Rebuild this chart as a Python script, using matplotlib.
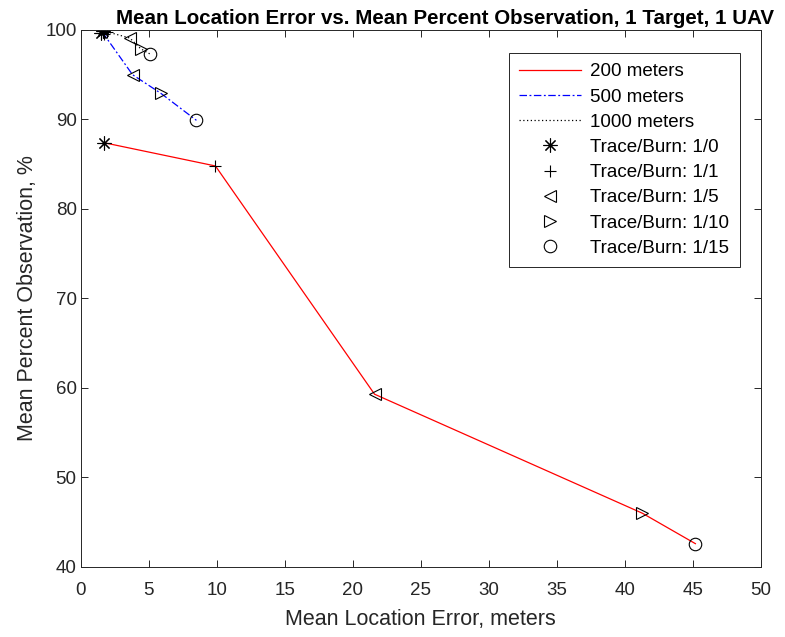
import matplotlib
matplotlib.use("Agg")
import matplotlib.pyplot as plt
from matplotlib.lines import Line2D

plt.rcParams['font.family'] = ['Liberation Sans', 'DejaVu Sans']

# ratios trace/burn, one point per ratio on each series
ratios = ['1/0', '1/1', '1/5', '1/10', '1/15']
markers = [(8, 2, 0), '+', '<', '>', 'o']

err_200 = [1.7, 9.9, 21.6, 41.3, 45.2]
obs_200 = [87.4, 84.8, 59.3, 46.0, 42.6]

err_500 = [1.5, 1.7, 3.8, 5.9, 8.5]
obs_500 = [99.7, 99.5, 95.0, 92.9, 89.9]

err_1000 = [1.6, 1.9, 3.6, 4.4, 5.1]
obs_1000 = [99.9, 99.8, 99.1, 97.9, 97.3]

series = [
    ('200 meters', err_200, obs_200, 'red', '-'),
    ('500 meters', err_500, obs_500, 'blue', (0, (6, 2, 1.5, 2))),
    ('1000 meters', err_1000, obs_1000, 'black', (0, (1, 2))),
]

def msize(m):
    return 10 if m == (8, 2, 0) else 9

fig = plt.figure(figsize=(7.85, 6.37), dpi=100)
ax = fig.add_axes([0.103, 0.110, 0.866, 0.843])

for name, xs, ys, col, ls in series:
    ax.plot(xs, ys, color=col, linestyle=ls, linewidth=0.9)
    for x, y, m in zip(xs, ys, markers):
        ax.plot(x, y, marker=m, color='black', markersize=msize(m),
                markerfacecolor='none', markeredgewidth=0.8, linestyle='none')

ax.set_xlim(0, 50)
ax.set_ylim(40, 100)
ax.set_xticks(range(0, 51, 5))
ax.set_yticks(range(40, 101, 10))
ax.tick_params(direction='in', top=True, right=True, labelsize=13.5,
               colors='#262626', length=5, width=0.7)
ax.tick_params(axis='x', pad=11)
ax.tick_params(axis='y', pad=3)
for s in ax.spines.values():
    s.set_color('#262626')
    s.set_linewidth(0.7)

ax.set_xlabel('Mean Location Error, meters', fontsize=15.5, color='#262626', labelpad=7)
ax.set_ylabel('Mean Percent Observation, %', fontsize=15.5, color='#262626', labelpad=5)
ax.set_title('Mean Location Error vs. Mean Percent Observation, 1 Target, 1 UAV',
             fontsize=14.8, fontweight='bold', pad=4, x=0.535)

handles = [Line2D([], [], color=c, linestyle=ls, linewidth=0.9) for _, _, _, c, ls in series]
labels = [s[0] for s in series]
for r, m in zip(ratios, markers):
    handles.append(Line2D([], [], color='black', marker=m, linestyle='none',
                          markerfacecolor='none', markersize=msize(m),
                          markeredgewidth=0.8))
    labels.append('Trace/Burn: ' + r)

leg = ax.legend(handles, labels, loc='upper right', bbox_to_anchor=(0.969, 0.957),
                fontsize=13.5, fancybox=False, edgecolor='#262626', framealpha=1,
                handlelength=3.3, borderpad=0.55, labelspacing=0.43,
                handletextpad=0.5, borderaxespad=0)
leg.get_frame().set_linewidth(0.7)

fig.savefig('out.png', dpi=100)
